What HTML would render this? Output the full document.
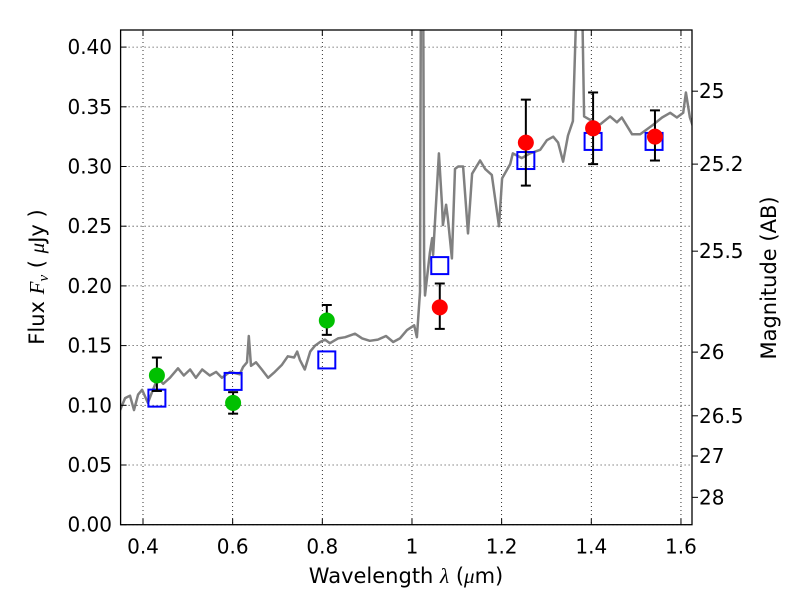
<!DOCTYPE html>
<html><head><meta charset="utf-8"><style>
body{margin:0;background:#fff;}
svg{display:block;font-family:"DejaVu Sans","Liberation Sans",sans-serif;}
</style></head><body>
<svg id="chart" width="800" height="600" viewBox="0 0 800 600" xmlns="http://www.w3.org/2000/svg">
<defs><clipPath id="clip"><rect x="120.6" y="30" width="571.4" height="494.7"/></clipPath></defs>
<rect width="800" height="600" fill="#fff"/>
<g id="grid"></g>
<g id="spec" clip-path="url(#clip)"></g>
<g id="marks"></g>
<g id="axes"></g>
<text x="406" y="583" font-size="21" text-anchor="middle">Wavelength  <tspan font-family="Liberation Serif,serif" font-style="italic">λ</tspan> (<tspan font-family="Liberation Serif,serif" font-style="italic">μ</tspan>m)</text>
<text transform="translate(44,277) rotate(-90)" font-size="21" text-anchor="middle">Flux  <tspan font-family="Liberation Serif,serif" font-style="italic">F<tspan font-size="15" dy="4">ν</tspan></tspan><tspan dy="-4">  ( </tspan><tspan font-family="Liberation Serif,serif" font-style="italic">μ</tspan>Jy )</text>
<text transform="translate(776,278) rotate(-90)" font-size="21" text-anchor="middle">Magnitude (AB)</text>
</svg>
<script>
const specWave=[0.349,0.36,0.371,0.38,0.389,0.398,0.411,0.42,0.433,0.445,0.46,0.478,0.491,0.505,0.518,0.532,0.549,0.563,0.576,0.594,0.616,0.623,0.632,0.636,0.641,0.652,0.665,0.679,0.694,0.71,0.723,0.737,0.744,0.75,0.761,0.773,0.784,0.795,0.806,0.817,0.835,0.851,0.873,0.889,0.906,0.924,0.942,0.958,0.973,0.989,1.005,1.011,1.018,1.020,1.025,1.027,1.029,1.040,1.045,1.047,1.060,1.067,1.069,1.076,1.080,1.089,1.096,1.103,1.114,1.125,1.134,1.152,1.163,1.178,1.194,1.201,1.219,1.225,1.245,1.263,1.286,1.301,1.315,1.326,1.337,1.348,1.359,1.368,1.379,1.384,1.402,1.419,1.442,1.457,1.468,1.491,1.509,1.538,1.558,1.576,1.591,1.605,1.611,1.620,1.63];
const specFlux=[0.096,0.106,0.108,0.096,0.109,0.113,0.102,0.111,0.123,0.118,0.123,0.131,0.125,0.13,0.123,0.13,0.125,0.128,0.123,0.128,0.126,0.132,0.136,0.158,0.133,0.136,0.13,0.123,0.128,0.134,0.141,0.14,0.145,0.138,0.13,0.145,0.15,0.153,0.155,0.152,0.156,0.157,0.16,0.156,0.154,0.155,0.158,0.153,0.156,0.163,0.167,0.157,0.195,0.45,0.45,0.223,0.192,0.228,0.24,0.226,0.311,0.268,0.251,0.268,0.257,0.223,0.298,0.3,0.3,0.244,0.294,0.305,0.298,0.293,0.25,0.29,0.302,0.311,0.307,0.311,0.314,0.322,0.325,0.32,0.304,0.326,0.338,0.45,0.45,0.342,0.338,0.335,0.342,0.337,0.341,0.327,0.327,0.335,0.341,0.345,0.341,0.345,0.362,0.341,0.33];
const greenWave=[0.431,0.601,0.810];
const greenFlux=[0.125,0.102,0.171];
const greenLo=[0.112,0.093,0.159];
const greenHi=[0.140,0.111,0.184];
const redWave=[1.062,1.254,1.404,1.542];
const redFlux=[0.182,0.320,0.332,0.325];
const redLo=[0.164,0.284,0.302,0.305];
const redHi=[0.202,0.356,0.362,0.347];
const modelWave=[0.431,0.601,0.810,1.062,1.254,1.404,1.540];
const modelFlux=[0.106,0.120,0.138,0.217,0.305,0.321,0.321];
const xTicks=[0.4,0.6,0.8,1.0,1.2,1.4,1.6];
const xTickLabels=["0.4","0.6","0.8","1","1.2","1.4","1.6"];
const yTicks=[0,0.05,0.1,0.15,0.2,0.25,0.3,0.35,0.4];
const yTickLabels=["0.00","0.05","0.10","0.15","0.20","0.25","0.30","0.35","0.40"];
const magTicks=[25,25.2,25.5,26,26.5,27,28];
const magTickLabels=["25","25.2","25.5","26","26.5","27","28"];

const L=120.6,R=692,T=30,B=524.7;
const X=v=>143+(v-0.4)*448.3;
const Y=v=>B-v*1194;
const NS="http://www.w3.org/2000/svg";
function mk(tag,attrs,parent){const e=document.createElementNS(NS,tag);for(const k in attrs)e.setAttribute(k,attrs[k]);parent.appendChild(e);return e;}
const grid=document.getElementById('grid'),spec=document.getElementById('spec'),marks=document.getElementById('marks'),axes=document.getElementById('axes');
xTicks.forEach((t,i)=>{
  const g=mk('line',{x1:X(t),x2:X(t),y1:T,y2:B,stroke:'#000','stroke-width':0.8,'stroke-dasharray':'1,3'},grid);
  
  
  mk('line',{x1:X(t),x2:X(t),y1:B,y2:B-6,stroke:'#000'},axes);
  mk('line',{x1:X(t),x2:X(t),y1:T,y2:T+6,stroke:'#000'},axes);
  const tx=mk('text',{x:X(t),y:B+29,'font-size':20,'text-anchor':'middle'},axes);
  tx.textContent=xTickLabels[i];
  
  
});
yTicks.forEach((t,i)=>{
  const g=mk('line',{x1:L,x2:R,y1:Y(t),y2:Y(t),stroke:'#000','stroke-width':0.8,'stroke-dasharray':'1,3'},grid);
  
  
  mk('line',{x1:L,x2:L+6,y1:Y(t),y2:Y(t),stroke:'#000'},axes);
  const tx=mk('text',{x:112,y:Y(t)+7,'font-size':20,'text-anchor':'end'},axes);
  tx.textContent=yTickLabels[i];
  
  
});
magTicks.forEach((m,i)=>{
  const y=Y(Math.pow(10,(23.9-m)/2.5));
  mk('line',{x1:R,x2:R+6,y1:y,y2:y,stroke:'#000'},axes);
  const tx=mk('text',{x:699,y:y+7,'font-size':20},axes);
  tx.textContent=magTickLabels[i];
  
  
});
const pl=mk('polyline',{points:specWave.map((w,i)=>X(w).toFixed(1)+','+Y(specFlux[i]).toFixed(1)).join(' '),fill:'none',stroke:'#808080','stroke-width':2.5,'stroke-linejoin':'round'},spec);


modelWave.forEach((w,i)=>{
  const r=mk('rect',{x:X(w)-8.5,y:Y(modelFlux[i])-8.5,width:17,height:17,fill:'none',stroke:'#0000ff','stroke-width':2},marks);
  
  
});
function errPts(W,F,Lo,Hi,col,name){
  W.forEach((w,i)=>{
    const x=X(w);
    mk('line',{x1:x,x2:x,y1:Y(Lo[i]),y2:Y(Hi[i]),stroke:'#000','stroke-width':2},marks);
    mk('line',{x1:x-5,x2:x+5,y1:Y(Lo[i]),y2:Y(Lo[i]),stroke:'#000','stroke-width':2},marks);
    mk('line',{x1:x-5,x2:x+5,y1:Y(Hi[i]),y2:Y(Hi[i]),stroke:'#000','stroke-width':2},marks);
    const c=mk('circle',{cx:x,cy:Y(F[i]),r:8,fill:col},marks);
    
    
  });
}
errPts(greenWave,greenFlux,greenLo,greenHi,'#00c000','green-photometry-point');
errPts(redWave,redFlux,redLo,redHi,'#ff0000','red-photometry-point');
const fr=mk('rect',{x:L,y:T,width:R-L,height:B-T,fill:'none',stroke:'#000','stroke-width':1.3},axes);


</script>
</body></html>
